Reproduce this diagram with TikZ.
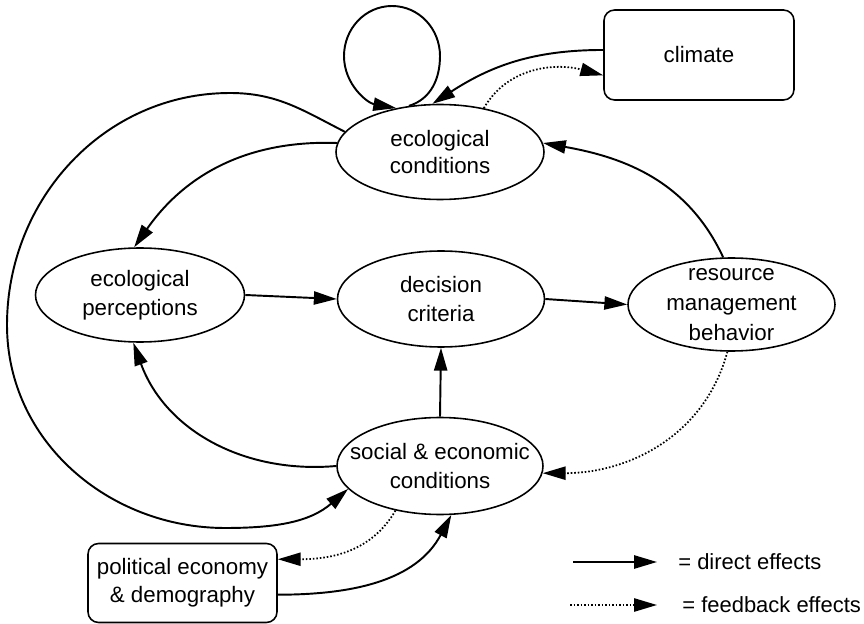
\documentclass[tikz,border=0pt]{standalone}
\usepackage{fontspec}
\setmainfont{Liberation Sans}
\usetikzlibrary{arrows.meta,shapes.geometric}

\begin{document}
\begin{tikzpicture}[
  state/.style={ellipse, draw, line width=0.9pt, inner xsep=-0.6cm, inner ysep=-0.4cm,
    align=center, font=\fontsize{12.7}{16.5}\selectfont},
  outbox/.style={rectangle, rounded corners=6pt, draw, line width=0.9pt, inner sep=0pt,
    align=center, font=\fontsize{12.7}{16}\selectfont},
  direct/.style={line width=1.1pt, -{Triangle[length=13pt,width=7.5pt]}},
  feedback/.style={line width=1pt, dash pattern=on 0.9pt off 1.1pt,
    -{Triangle[length=13pt,width=7.5pt]}},
  legtext/.style={anchor=west, inner sep=0pt, font=\fontsize{12.5}{15}\selectfont},
]
% 1 px of the 864x623 sketch = 0.02 cm
\useasboundingbox (0,0) rectangle (17.28,12.46);

% ellipses
\node[state, minimum width=4.16cm, minimum height=1.90cm,
  font=\fontsize{12.7}{15.3}\selectfont] (ecocond) at (8.80,9.42) {ecological\\conditions};
\node[state, minimum width=4.18cm, minimum height=1.88cm] (ecoperc) at (2.80,6.56) {ecological\\perceptions};
\node[state, minimum width=4.14cm, minimum height=1.92cm] (decision) at (8.82,6.48) {decision\\criteria};
\node[state, minimum width=4.14cm, minimum height=1.86cm,
  font=\fontsize{12.7}{17}\selectfont] (resource) at (14.63,6.37) {resource\\management\\behavior};
\node[state, minimum width=4.12cm, minimum height=1.94cm] (socecon) at (8.80,3.14) {social \& economic\\conditions};

% outside drivers
\node[outbox, minimum width=3.80cm, minimum height=1.80cm] (climate) at (13.98,11.36) {climate};
\node[outbox, minimum width=3.78cm, minimum height=1.58cm] (polecon) at (3.65,0.80) {political economy\\\& demography};

% way points of the loops
\coordinate (loopR) at (8.80,11.34);
\coordinate (loopT) at (7.84,12.34);
\coordinate (loopL) at (6.88,11.34);
\coordinate (arcT) at (4.60,10.60);
\coordinate (arcL) at (0.14,5.96);
\coordinate (arcB) at (4.50,1.90);

% self loop on ecological conditions
\draw[direct] (ecocond.124) to[out=17,in=-90] (loopR) to[out=90,in=0] (loopT)
  to[out=180,in=90] (loopL) to[out=-90,in=170] (ecocond.135);

% climate
\draw[direct] (climate.177) to[out=180,in=33] (ecocond.99);
\draw[feedback] (ecocond.45) to[out=60,in=165] (climate.192);

% direct effects
\draw[direct] (resource.100) to[out=115,in=-10] (ecocond.5);
\draw[direct] (ecocond.175) to[out=178,in=55] (ecoperc.97);
\draw[direct] (ecocond.168) to[out=153,in=0] (arcT) to[out=180,in=90] (arcL)
  to[out=-90,in=180] (arcB) to[out=0,in=221] (socecon.194);
\draw[direct] (socecon.west) to[out=185,in=-70] (ecoperc.262);
\draw[direct] (ecoperc.east) -- (decision.west);
\draw[direct] (decision.east) -- (resource.west);
\draw[direct] (socecon.north) -- (decision.south);
\draw[direct] (polecon.353) to[out=0,in=242] (socecon.283);

% feedback effects
\draw[feedback] (resource.265) to[out=-105,in=0] (socecon.356);
\draw[feedback] (socecon.225) to[out=-120,in=0] (polecon.14);

% legend
\coordinate (dirtail) at (11.46,1.22);
\coordinate (dirhead) at (13.14,1.22);
\coordinate (fbtail) at (11.40,0.36);
\coordinate (fbhead) at (13.14,0.36);
\draw[direct] (dirtail) -- (dirhead);
\draw[feedback] (fbtail) -- (fbhead);
\node[legtext] (dirtxt) at (13.56,1.22) {= direct effects};
\node[legtext] (fbtxt) at (13.64,0.36) {= feedback effects};
\end{tikzpicture}
\end{document}
